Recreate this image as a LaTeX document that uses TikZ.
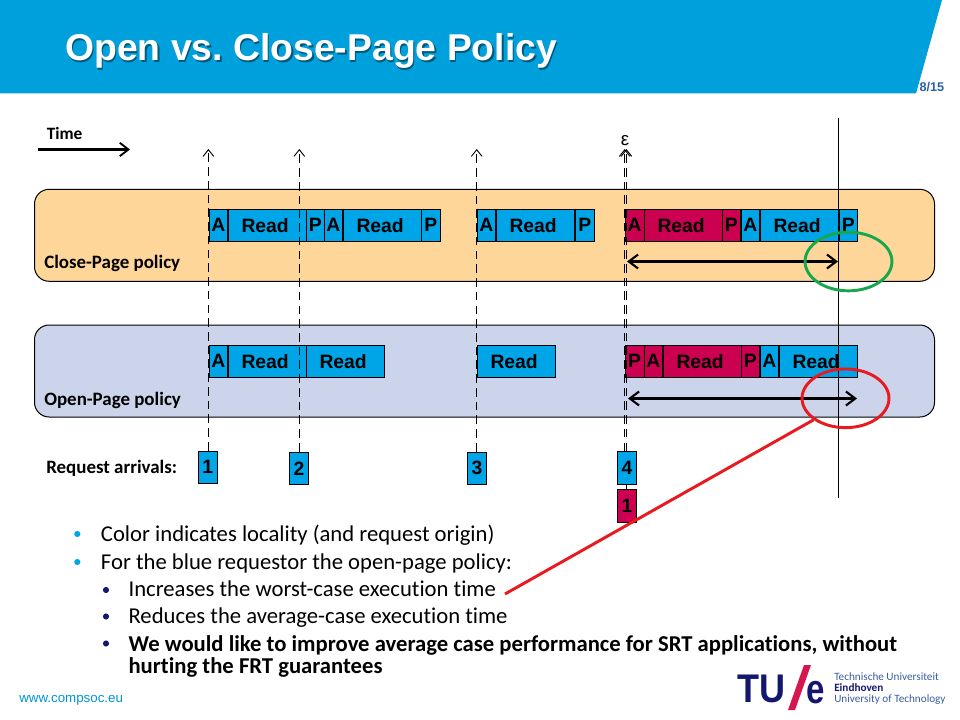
\documentclass[tikz,border=0pt]{standalone}
\usepackage{fontspec}
\setmainfont[RawFeature={-liga}]{Carlito}
\newfontfamily\arialfont{Liberation Sans}
\usetikzlibrary{arrows.meta, shapes.geometric}
\definecolor{headblue}{HTML}{00A0DC}
\definecolor{cellblue}{HTML}{00A5E8}
\definecolor{cellred}{HTML}{CC0050}
\definecolor{bandorange}{HTML}{FFD699}
\definecolor{bandviolet}{HTML}{CCD4EC}
\definecolor{markgreen}{HTML}{17A84D}
\definecolor{markred}{HTML}{E8191F}
\definecolor{tuenavy}{HTML}{14176E}
\definecolor{tueblue}{HTML}{3A5DA0}
\definecolor{tuered}{HTML}{D6164E}
\definecolor{pageblue}{HTML}{2B5FAB}
\newcommand{\shadowtext}[1]{\rlap{\kern1.2pt\raisebox{-1.2pt}{\textcolor{black!45!headblue}{#1}}}#1}

\begin{document}
\begin{tikzpicture}[x=0.75pt, y=-0.75pt]
    % Styles
    \tikzset{
        band/.style={
            rectangle,
            draw=black,
            fill=#1,
            minimum width=675pt,
            minimum height=69pt,
            rounded corners=11pt,
            line width=0.75pt
        },
        cell/.style={
            rectangle,
            draw=black,
            fill=#1,
            anchor=west,
            inner sep=0pt,
            minimum height=24pt,
            line width=0.6pt,
            text=black,
            font=\arialfont\fontsize{14.5}{16}\selectfont\bfseries
        },
        cmd/.style={cell=#1, minimum width=14.2pt},
        rd/.style={cell=#1, minimum width=58.9pt, execute at begin node={\kern-3pt}},
        req/.style={cell=#1, anchor=center, minimum width=14.4pt, minimum height=24.6pt},
        label/.style={anchor=base west, inner sep=0pt, font=\fontsize{14.2}{16}\selectfont\bfseries},
        item/.style={anchor=base west, inner sep=0pt, font=\fontsize{17}{20}\selectfont},
        dot/.style={circle, fill=#1, inner sep=0pt, minimum size=4.6pt},
        reqline/.style={-{Straight Barb[length=5pt, width=8pt]}, line width=0.7pt, dash pattern=on 6.5pt off 3.8pt},
        span/.style={{Straight Barb[length=7pt, width=10.5pt, line width=1.6pt]}-{Straight Barb[length=7pt, width=10.5pt, line width=1.6pt]}, line width=2.2pt},
        mark/.style={ellipse, draw=#1, inner sep=0pt, minimum width=65.2pt, minimum height=44pt, line width=2.2pt}
    }

    \useasboundingbox (0,0) rectangle (960,720);

    % Header
    \fill[headblue] (0,0) -- (942,0) -- (916,93.5) -- (0,93.5) -- cycle;
    \node[anchor=base west, inner sep=0pt, text=white, font=\arialfont\fontsize{28}{32}\selectfont\bfseries\frenchspacing] at (65,60.5) (title) {\shadowtext{Open vs. Close-Page Policy}};
    \node[anchor=base east, inner sep=0pt, text=pageblue, font=\arialfont\fontsize{9.5}{11}\selectfont\bfseries] at (944.5,92) (page) {8/15};

    % Time
    \node[label, font=\fontsize{13}{15}\selectfont\bfseries] at (46.5,140) (timelabel) {Time};
    \coordinate (timeleft) at (37.5,149.5);
    \coordinate (timeright) at (130,149.5);
    \draw[-{Straight Barb[length=6.5pt, width=10pt, line width=1.4pt]}, line width=1.7pt] (timeleft) -- (timeright);

    % Bands
    \node[band=bandorange] at (484.5,235.3) (closeband) {};
    \node[band=bandviolet] at (484.5,371) (openband) {};
    \node[label] at (44,269) (closelabel) {Close-Page policy};
    \node[label] at (44,405) (openlabel) {Open-Page policy};

    % Close-Page row
    \node[cmd=cellblue] at (208.5,225.3) (ca1) {A};
    \node[rd=cellblue] at (227.5,225.3) (cr1) {Read};
    \node[cmd=cellblue] at (305.5,225.3) (cp1) {P};
    \node[cmd=cellblue] at (323.5,225.3) (ca2) {A};
    \node[rd=cellblue] at (342.5,225.3) (cr2) {Read};
    \node[cmd=cellblue] at (421,225.3) (cp2) {P};
    \node[cmd=cellblue] at (476.5,225.3) (ca3) {A};
    \node[rd=cellblue] at (495.5,225.3) (cr3) {Read};
    \node[cmd=cellblue] at (575,225.3) (cp3) {P};
    \node[cmd=cellred] at (624.7,225.3) (ca4) {A};
    \node[rd=cellred] at (643.5,225.3) (cr4) {Read};
    \node[cmd=cellred] at (721.5,225.3) (cp4) {P};
    \node[cmd=cellblue] at (740.5,225.3) (ca5) {A};
    \node[rd=cellblue] at (759.5,225.3) (cr5) {Read};
    \node[cmd=cellblue] at (838.5,225.3) (cp5) {P};

    % Open-Page row
    \node[cmd=cellblue] at (208.5,361.3) (oa1) {A};
    \node[rd=cellblue] at (227.5,361.3) (or1) {Read};
    \node[rd=cellblue] at (305.5,361.3) (or2) {Read};
    \node[rd=cellblue] at (476.5,361.3) (or3) {Read};
    \node[cmd=cellred] at (624.7,361.3) (op4) {P};
    \node[cmd=cellred] at (643.5,361.3) (oa4) {A};
    \node[rd=cellred] at (662.5,361.3) (or4) {Read};
    \node[cmd=cellred] at (740.5,361.3) (op5) {P};
    \node[cmd=cellblue] at (759.5,361.3) (oa5) {A};
    \node[rd=cellblue] at (778.5,361.3) (or5) {Read};

    % Request arrivals
    \node[label] at (46,473) (reqlabel) {Request arrivals:};
    \node[req=cellblue] at (207.8,467.3) (req1) {1};
    \node[req=cellblue] at (299,468.3) (req2) {2};
    \node[req=cellblue] at (477,468.3) (req3) {3};
    \node[req=cellblue] at (627,468) (req4) {4};
    \node[req=cellred] at (627,506) (req5) {1};

    % Arrival lines
    \coordinate (top1) at (208.4,149);
    \coordinate (top2) at (299.3,149);
    \coordinate (top3) at (476.7,149);
    \coordinate (top4) at (624.7,149);
    \coordinate (top5) at (626.4,149);
    \draw[reqline] (req1.north -| top1) -- (top1);
    \draw[reqline] (req2.north -| top2) -- (top2);
    \draw[reqline] (req3.north -| top3) -- (top3);
    \draw[reqline] (req4.north -| top4) -- (top4);
    \draw[reqline] (req4.north -| top5) -- (top5);
    \draw[line width=0.6pt] (req5.north -| top5) -- (req4.south -| top5);
    \node[inner sep=0pt, font=\arialfont\fontsize{14}{16}\selectfont] at (625,140.5) (eps) {ε};

    % Deadline
    \coordinate (linetop) at (838.5,118);
    \coordinate (linebot) at (838.5,498);
    \draw[line width=0.75pt] (linetop) -- (linebot);

    % Spans
    \coordinate (closeleft) at (627,261.5);
    \coordinate (closeright) at (838,261.5);
    \coordinate (openleft) at (628,398.5);
    \coordinate (openright) at (857,398.5);
    \draw[span] (closeleft) -- (closeright);
    \draw[span] (openleft) -- (openright);

    % Circles
    \node[mark=markgreen] at (848.5,261.5) (greenmark) {};
    \node[mark=markred] at (845.5,398.3) (redmark) {};

    % Bullets
    \node[dot=cellblue] at (77.3,534) (dot1) {};
    \node[dot=cellblue] at (77.3,562) (dot2) {};
    \node[dot=tuenavy] at (106,590) (dot3) {};
    \node[dot=tuenavy] at (106,616.5) (dot4) {};
    \node[dot=tuenavy] at (106,643.5) (dot5) {};
    \node[item] at (100.7,541.7) (item1) {Color indicates locality (and request origin)};
    \node[item] at (100.7,569.3) (item2) {For the blue requestor the open-page policy:};
    \node[item] at (128.3,596.7) (item3) {Increases the worst-case execution time};
    \node[item] at (128.3,623.7) (item4) {Reduces the average-case execution time};
    \node[item, anchor=north west, align=left, font=\fontsize{17}{16}\selectfont\bfseries] at (128.3,635.5) (item5) {We would like to improve average case performance for SRT applications, without\\hurting the FRT guarantees};

    % Pointer
    \coordinate (pointerend) at (505,594);
    \draw[markred, line width=2.2pt] (pointerend) -- (redmark.214);

    % Footer
    \node[anchor=base west, inner sep=0pt, text=cellblue!90!black, font=\arialfont\fontsize{10}{12}\selectfont] at (19,702) (url) {www.compsoc.eu};

    % Logo
    \node[anchor=base west, inner sep=0pt, text=tuenavy, font=\arialfont\fontsize{30}{32}\selectfont\bfseries, xscale=0.9] at (737,702) (tu) {TU};
    \fill[tuered] (804,665) -- (811,665) -- (795,710) -- (788,710) -- cycle;
    \node[anchor=base west, inner sep=0pt, text=tuenavy, font=\arialfont\fontsize{31}{32}\selectfont\bfseries, xscale=0.8] at (806,703) (e) {e};
    \node[anchor=south west, inner sep=0pt, align=left, text=tueblue, font=\fontsize{8.4}{8.25}\selectfont] at (834,705) (tue) {Technische Universiteit\\\textcolor{tuenavy}{\bfseries Eindhoven}\\University of Technology};

\end{tikzpicture}
\end{document}
